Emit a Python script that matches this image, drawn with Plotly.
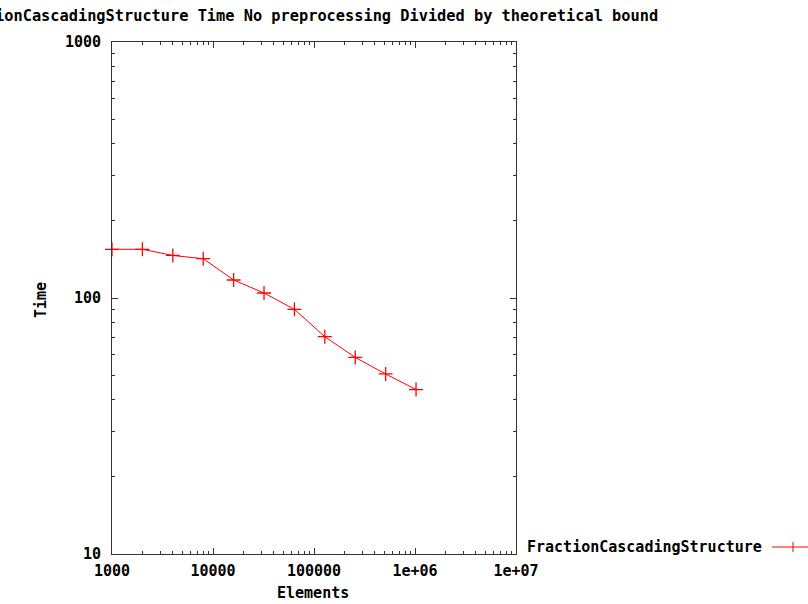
import plotly.graph_objects as go

elements = [1000, 2000, 4000, 8000, 16000, 32000, 64000, 128000, 256000, 512000, 1024000]
times = [155, 155, 146.6, 142.4, 117.6, 104.6, 90.3, 70.6, 58.6, 50.5, 43.9]
series_name = "FractionCascadingStructure"
title_text = "FractionCascadingStructure Time No preprocessing Divided by theoretical bound"
x_title = "Elements"
y_title = "Time"
x_ticks = [1000, 10000, 100000, 1000000, 10000000]
x_tick_labels = ["1000", "10000", "100000", "1e+06", "1e+07"]
y_ticks = [10, 100, 1000]
y_tick_labels = ["10", "100", "1000"]

W, H = 808, 604
L, R, T, B = 112, 292, 42, 50
FONT = dict(family="DejaVu Sans Mono", size=15, color="black", weight="bold")
TFONT = dict(family="DejaVu Sans Mono", size=15.3, color="black", weight="bold")
RED = "#ff0000"

def px(xpix):
    return (xpix - L) / (W - L - R)

def py(ypix):
    return 1 - (ypix - T) / (H - T - B)

x_minor = [m * d for d in [1000, 10000, 100000, 1000000] for m in range(2, 10)]
y_minor = [m * d for d in [10, 100] for m in range(2, 10)]

fig = go.Figure()
fig.add_trace(go.Scatter(
    x=elements, y=times, mode="lines+markers", name=series_name,
    line=dict(color=RED, width=1),
    marker=dict(symbol="cross-thin", size=10, color=RED, line=dict(color=RED, width=1.3)),
    showlegend=False, cliponaxis=False,
))

axis_common = dict(
    type="log", showgrid=False, zeroline=False, showline=True, linecolor="#333333",
    linewidth=1, mirror="allticks", ticks="inside", ticklen=6, tickcolor="#333333",
    tickfont=FONT, automargin=False,
)
fig.update_xaxes(
    range=[2.99999, 7.00001], tickvals=x_ticks, ticktext=x_tick_labels, ticklabelstandoff=3,
    minor=dict(tickvals=x_minor, ticks="inside", ticklen=3, tickcolor="#333333", showgrid=False),
    **axis_common,
)
fig.update_yaxes(
    range=[0.99999, 3.00001], tickvals=y_ticks, ticktext=y_tick_labels, ticklabelstandoff=7,
    minor=dict(tickvals=y_minor, ticks="inside", ticklen=3, tickcolor="#333333", showgrid=False),
    **axis_common,
)

annotations = [
    dict(text=title_text, xref="paper", yref="paper", x=px(660), y=py(16),
         xanchor="right", yanchor="middle", showarrow=False, font=TFONT),
    dict(text=x_title, xref="paper", yref="paper", x=px(313), y=py(593),
         xanchor="center", yanchor="middle", showarrow=False, font=FONT),
    dict(text=y_title, xref="paper", yref="paper", x=px(41), y=py(300),
         xanchor="center", yanchor="middle", showarrow=False, font=FONT, textangle=-90),
    dict(text=series_name, xref="paper", yref="paper", x=px(764), y=py(547),
         xanchor="right", yanchor="middle", showarrow=False, font=FONT),
]
shapes = [
    dict(type="line", xref="paper", yref="paper", x0=px(772), x1=px(810), y0=py(547), y1=py(547),
         line=dict(color=RED, width=1)),
    dict(type="line", xref="paper", yref="paper", x0=px(793), x1=px(793), y0=py(542), y1=py(552),
         line=dict(color=RED, width=1)),
]

fig.update_layout(
    width=W, height=H, margin=dict(l=L, r=R, t=T, b=B),
    paper_bgcolor="white", plot_bgcolor="white",
    font=FONT, annotations=annotations, shapes=shapes,
)
fig.write_html("out.html")
